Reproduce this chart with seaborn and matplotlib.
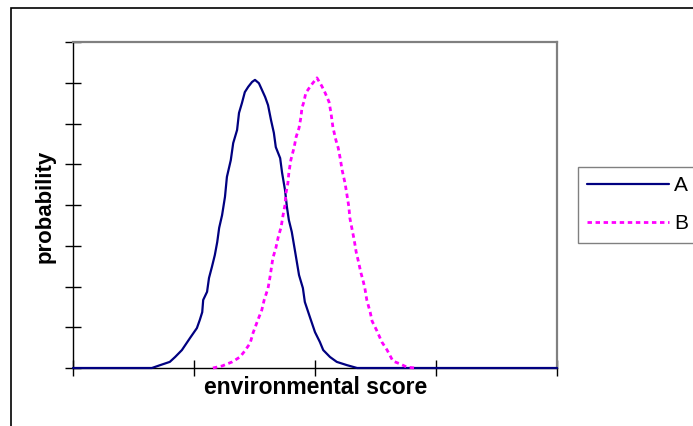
import matplotlib

matplotlib.use('Agg')
import matplotlib.pyplot as plt
from matplotlib.patches import Rectangle
import pandas as pd
import seaborn as sns

# Values
score_a = [0, 16.3, 18.0, 20.0, 21.1, 22.5, 24.2, 25.6, 26.2, 26.7, 26.9, 27.7,
           28.1, 28.7, 29.3, 29.8, 30.2, 30.8, 31.4, 31.8, 32.6, 33.1, 33.9,
           34.3, 34.9, 35.5, 36.2, 37.0, 37.6, 38.4, 38.6, 39.7, 40.3, 40.9,
           41.5, 41.9, 42.8, 43.2, 43.8, 44.2, 44.6, 45.2, 45.9, 46.7, 47.5,
           47.9, 49.0, 50.0, 51.0, 51.7, 53.1, 54.5, 56.6, 58.7, 100]
prob_a = [0, 0, 0.0007, 0.0015, 0.0027, 0.0044, 0.0074, 0.0098, 0.0118, 0.0137,
          0.0167, 0.0187, 0.0221, 0.0248, 0.0277, 0.0309, 0.0344, 0.0375,
          0.0420, 0.0469, 0.0510, 0.0552, 0.0584, 0.0626, 0.0650, 0.0677,
          0.0690, 0.0702, 0.0707, 0.0699, 0.0694, 0.0665, 0.0645, 0.0609,
          0.0577, 0.0542, 0.0515, 0.0479, 0.0437, 0.0395, 0.0363, 0.0334,
          0.0285, 0.0228, 0.0196, 0.0162, 0.0123, 0.0088, 0.0064, 0.0044,
          0.0027, 0.0015, 0.0007, 0, 0]

score_b = [28.9, 30.8, 32.9, 34.5, 35.5, 36.6, 37.2, 38.2, 39.0, 39.5, 40.3,
           40.7, 41.3, 41.9, 42.4, 43.0, 43.4, 43.8, 44.0, 44.4, 44.6, 45.0,
           45.7, 46.1, 46.7, 47.1, 47.3, 47.7, 48.1, 49.2, 50.4, 51.4, 52.1,
           52.9, 53.3, 53.7, 54.3, 54.8, 55.2, 55.6, 56.2, 56.6, 57.0, 57.2,
           57.6, 58.1, 58.5, 58.9, 59.5, 59.9, 60.3, 60.7, 61.4, 61.8, 62.8,
           63.8, 64.9, 66.1, 67.6, 69.0, 70.7]
prob_b = [0, 0.0005, 0.0015, 0.0027, 0.0042, 0.0061, 0.0086, 0.0118, 0.0142,
          0.0167, 0.0196, 0.0223, 0.0270, 0.0294, 0.0321, 0.0346, 0.0375,
          0.0400, 0.0429, 0.0454, 0.0479, 0.0510, 0.0542, 0.0567, 0.0589,
          0.0616, 0.0638, 0.0653, 0.0675, 0.0694, 0.0712, 0.0692, 0.0675,
          0.0653, 0.0626, 0.0591, 0.0560, 0.0540, 0.0515, 0.0486, 0.0454,
          0.0425, 0.0395, 0.0368, 0.0344, 0.0314, 0.0285, 0.0265, 0.0233,
          0.0216, 0.0196, 0.0167, 0.0137, 0.0115, 0.0091, 0.0064, 0.0044,
          0.0017, 0.0010, 0.0002, 0]

x_ticks = [0, 25, 50, 75, 100]
y_ticks = [0, 0.01, 0.02, 0.03, 0.04, 0.05, 0.06, 0.07, 0.08]

df_a = pd.DataFrame({'score': score_a, 'probability': prob_a})
df_b = pd.DataFrame({'score': score_b, 'probability': prob_b})

sns.set_style('white')
plt.rcParams['font.family'] = ['Liberation Sans', 'DejaVu Sans']
plt.rcParams['text.color'] = 'black'

W, H = 693, 426
fig = plt.figure(figsize=(W / 100, H / 100), dpi=100)
ax = fig.add_axes([73 / W, 1 - 368 / H, 484 / W, 326 / H])

sns.lineplot(data=df_a, x='score', y='probability', ax=ax, color='#000080',
             lw=1.6, label='A', sort=False, zorder=3, clip_on=False)
sns.lineplot(data=df_b, x='score', y='probability', ax=ax, color='#ff00ff',
             lw=2.0, linestyle=(0, (1.6, 1.3)), label='B', sort=False,
             zorder=4, clip_on=False)

ax.set_xlim(0, 100)
ax.set_ylim(0, 0.08)
ax.set_xticks(x_ticks)
ax.set_yticks(y_ticks)
ax.set_xticklabels([])
ax.set_yticklabels([])
ax.tick_params(axis='both', direction='inout', length=12, width=1,
               color='black', left=True, bottom=True)
ax.set_xlabel('')
ax.set_ylabel('')
for side in ['top', 'right']:
    ax.spines[side].set_color('#808080')
    ax.spines[side].set_linewidth(1.6)
for side in ['left', 'bottom']:
    ax.spines[side].set_color('black')
    ax.spines[side].set_linewidth(1.0)

ax.legend_.remove()
handles, labels = ax.get_legend_handles_labels()
leg = fig.legend(handles, labels, loc='upper left',
                 bbox_to_anchor=(578 / W, 1 - 167 / H), fontsize=15,
                 handlelength=3.9, handletextpad=0.25, borderpad=0.45,
                 labelspacing=0.9, borderaxespad=0, fancybox=False,
                 framealpha=1, edgecolor='#808080', labelcolor='black')
leg.get_frame().set_linewidth(1.0)

fig.text(45 / W, 1 - 206 / H, 'probability', rotation=90, ha='center',
         va='center', fontsize=16, fontweight='bold', color='black')
fig.text(316 / W, 1 - 388 / H, 'environmental score', ha='center',
         va='center', fontsize=16.5, fontweight='bold', color='black')

fig.patches.append(Rectangle((11 / W, -0.1), 1.2, 1.1 - 8 / H,
                             transform=fig.transFigure, fill=False,
                             edgecolor='black', lw=1.2))

fig.savefig('out.png', dpi=100)
plt.close(fig)
